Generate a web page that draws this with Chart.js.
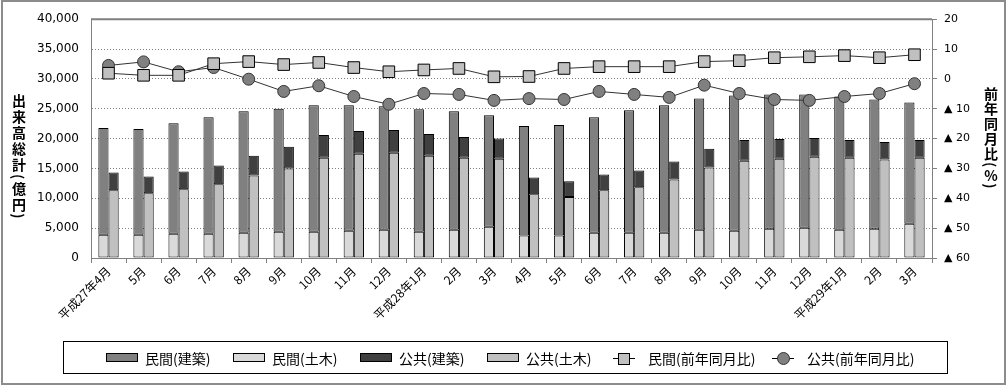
<!DOCTYPE html>
<html lang="ja">
<head>
  <meta charset="UTF-8">
  <title>出来高総計と前年同月比</title>
  <script src="https://cdn.jsdelivr.net/npm/chart.js"></script>
  <style>
    body {
      margin: 0;
      background: #fff;
      font-family: 'Noto Sans CJK JP', sans-serif;
    }
    #wrap {
      position: relative;
      width: 1008px;
      height: 386px;
      overflow: hidden;
    }
    #c {
      position: absolute;
      left: 0;
      top: 0;
    }
    #frame {
      position: absolute;
      left: 1px;
      top: 0;
      width: 1001px;
      height: 381px;
      border: 2px solid #8c8c8c;
      pointer-events: none;
    }
    .vtitle {
      position: absolute;
      writing-mode: vertical-rl;
      font-weight: bold;
      font-size: 14px;
      line-height: 14px;
      color: #000;
    }
    .vtitle .up {
      text-orientation: upright;
    }
    #legendBox {
      position: absolute;
      left: 63px;
      top: 341px;
      width: 883px;
      height: 31px;
      border: 1px solid #000;
    }
    .lg {
      position: absolute;
      top: 0;
      height: 31px;
      display: flex;
      align-items: center;
      font-size: 14px;
      color: #000;
      white-space: nowrap;
    }
    .sw {
      width: 30px;
      height: 7px;
      border: 1px solid #000;
      margin-right: 7px;
    }
    .ln {
      position: relative;
      width: 22px;
      height: 14px;
      margin-right: 13px;
    }
    .ln .bar {
      position: absolute;
      left: 0;
      right: 0;
      top: 7px;
      height: 1px;
      background: #000;
    }
    .ln .mk {
      position: absolute;
      left: 5px;
      top: 2px;
      width: 10px;
      height: 10px;
      border: 1px solid #000;
    }
  </style>
</head>
<body>

<div id="wrap">
  <canvas id="c" width="1008" height="386"></canvas>
  <div id="frame"></div>
  <div class="vtitle" style="left:12px; top:94px; letter-spacing:2px;">出来高総計(億円)</div>
  <div class="vtitle" style="left:984px; top:87px; letter-spacing:1px;">前年同月比(<span class="up">%</span>)</div>
  <div id="legendBox"></div>
</div>

<script>
  // categories
  var months = ['平成27年4月', '5月', '6月', '7月', '8月', '9月', '10月', '11月', '12月',
                '平成28年1月', '2月', '3月', '4月', '5月', '6月', '7月', '8月', '9月', '10月', '11月', '12月',
                '平成29年1月', '2月', '3月'];

  // 億円
  var privCivil = [3910, 3910, 4080, 4080, 4250, 4410, 4410, 4580, 4740, 4410, 4740, 5240,
                   3750, 3750, 4250, 4250, 4250, 4740, 4580, 4900, 5070, 4740, 4900, 5730];
  var privBuild = [17850, 17690, 18510, 19500, 20320, 20600, 21160, 20990, 20660, 20490, 19830, 18670,
                   18350, 18510, 19330, 20490, 21320, 21980, 22640, 22490, 22320, 22320, 21660, 20330];
  var pubCivil = [11350, 10860, 11520, 12340, 13830, 14990, 16810, 17470, 17630, 17140, 16810, 16640,
                  10690, 10200, 11350, 11850, 13170, 15150, 16310, 16640, 16970, 16810, 16480, 16810];
  var pubBuild = [2980, 2800, 2980, 3150, 3310, 3640, 3800, 3800, 3800, 3630, 3470, 3360,
                  2810, 2640, 2650, 2810, 2980, 3140, 3470, 3310, 3140, 2970, 2970, 2970];

  // 前年同月比 (%)
  var privYoy = [1.9, 1.2, 1.2, 5.1, 5.8, 4.8, 5.5, 3.8, 2.4, 3.0, 3.5, 0.7,
                 0.8, 3.5, 4.1, 4.1, 4.1, 5.8, 6.1, 7.1, 7.4, 7.8, 7.1, 8.1];
  var pubYoy = [4.5, 5.7, 2.4, 3.8, -0.1, -4.2, -2.3, -5.9, -8.5, -4.9, -5.2, -7.2,
                -6.6, -6.9, -4.2, -5.2, -6.2, -2.1, -4.9, -6.9, -7.2, -5.9, -4.9, -1.6];

  var seriesNames = ['民間(建築)', '民間(土木)', '公共(建築)', '公共(土木)', '民間(前年同月比)', '公共(前年同月比)'];

  var cPrivBuild = '#808080';
  var cPrivCivil = '#d9d9d9';
  var cPubBuild = '#404040';
  var cPubCivil = '#c0c0c0';

  var leftMax = 40000, leftStep = 5000;
  var rightMin = -60, rightMax = 20, rightStep = 10;

  function barSet(label, data, color, stack) {
    return {
      type: 'bar',
      label: label,
      data: data,
      backgroundColor: color,
      borderColor: '#000',
      borderWidth: 1,
      borderSkipped: false,
      inflateAmount: 0,
      stack: stack,
      yAxisID: 'y',
      order: 1,
      categoryPercentage: 0.58,
      barPercentage: 1.0
    };
  }

  var topBorder = {
    id: 'topBorder',
    afterDraw: function (chart) {
      var a = chart.chartArea;
      var ctx = chart.ctx;
      ctx.save();
      ctx.strokeStyle = '#808080';
      ctx.lineWidth = 2;
      ctx.beginPath();
      ctx.moveTo(a.left, a.top);
      ctx.lineTo(a.right, a.top);
      ctx.stroke();
      ctx.restore();
    }
  };

  var ctx = document.getElementById('c').getContext('2d');

  var chart = new Chart(ctx, {
    data: {
      labels: months,
      datasets: [
        barSet(seriesNames[1], privCivil, cPrivCivil, 'private'),
        barSet(seriesNames[0], privBuild, cPrivBuild, 'private'),
        barSet(seriesNames[3], pubCivil, cPubCivil, 'public'),
        barSet(seriesNames[2], pubBuild, cPubBuild, 'public'),
        {
          type: 'line',
          label: seriesNames[4],
          data: privYoy,
          yAxisID: 'y1',
          order: 0,
          borderColor: '#333',
          borderWidth: 1,
          pointStyle: 'rect',
          pointRadius: 8.2,
          pointBackgroundColor: '#c0c0c0',
          pointBorderColor: '#000',
          pointBorderWidth: 1
        },
        {
          type: 'line',
          label: seriesNames[5],
          data: pubYoy,
          yAxisID: 'y1',
          order: 0,
          borderColor: '#333',
          borderWidth: 1,
          pointStyle: 'circle',
          pointRadius: 6,
          pointBackgroundColor: '#808080',
          pointBorderColor: '#333',
          pointBorderWidth: 1
        }
      ]
    },
    options: {
      responsive: false,
      animation: false,
      devicePixelRatio: 1,
      layout: {
        padding: { left: 30, right: 36, top: 16, bottom: 56 }
      },
      plugins: {
        legend: { display: false },
        tooltip: { enabled: false }
      },
      scales: {
        x: {
          stacked: true,
          grid: {
            offset: true,
            drawOnChartArea: false,
            tickLength: 5,
            color: '#808080'
          },
          border: { color: '#808080' },
          ticks: {
            autoSkip: false,
            minRotation: 45,
            maxRotation: 45,
            padding: 1,
            color: '#000',
            font: { family: "'Noto Sans CJK JP', sans-serif", size: 12 }
          },
          afterFit: function (s) { s.height = 72; }
        },
        y: {
          stacked: true,
          position: 'left',
          min: 0,
          max: leftMax,
          ticks: {
            stepSize: leftStep,
            padding: 12,
            color: '#000',
            font: { family: "'DejaVu Sans', sans-serif", size: 12 },
            callback: function (v) { return v.toLocaleString('en-US'); }
          },
          grid: {
            color: '#808080',
            drawTicks: false,
            lineWidth: 1
          },
          border: { color: '#808080', dash: [1, 2] },
          afterFit: function (s) { s.width = 61; }
        },
        y1: {
          position: 'right',
          min: rightMin,
          max: rightMax,
          ticks: {
            stepSize: rightStep,
            padding: 7,
            color: '#000',
            font: { family: "'DejaVu Sans', sans-serif", size: 11 },
            callback: function (v) { return v < 0 ? '▲ ' + (-v) : String(v); }
          },
          grid: {
            drawOnChartArea: false,
            tickLength: 5,
            color: '#808080'
          },
          border: { color: '#808080' },
          afterFit: function (s) { s.width = 40; }
        }
      }
    },
    plugins: [topBorder]
  });

  // legend, built from the same series names
  var legendBox = document.getElementById('legendBox');
  var legendLeft = [42, 169, 296, 423, 549, 708];
  var swatchColors = [cPrivBuild, cPrivCivil, cPubBuild, cPubCivil];
  seriesNames.forEach(function (name, i) {
    var item = document.createElement('div');
    item.className = 'lg';
    item.style.left = legendLeft[i] + 'px';
    var mark;
    if (i < 4) {
      mark = document.createElement('div');
      mark.className = 'sw';
      mark.style.background = swatchColors[i];
    } else {
      mark = document.createElement('div');
      mark.className = 'ln';
      mark.innerHTML = '<div class="bar"></div><div class="mk"></div>';
      var mk = mark.querySelector('.mk');
      if (i === 4) {
        mk.style.background = '#c0c0c0';
      } else {
        mk.style.background = '#808080';
        mk.style.borderColor = '#333';
        mk.style.borderRadius = '50%';
        mk.style.width = '11px';
        mk.style.height = '11px';
        mk.style.top = '1px';
      }
    }
    item.appendChild(mark);
    var t = document.createElement('span');
    t.textContent = name;
    item.appendChild(t);
    legendBox.appendChild(item);
  });
</script>

</body>
</html>
